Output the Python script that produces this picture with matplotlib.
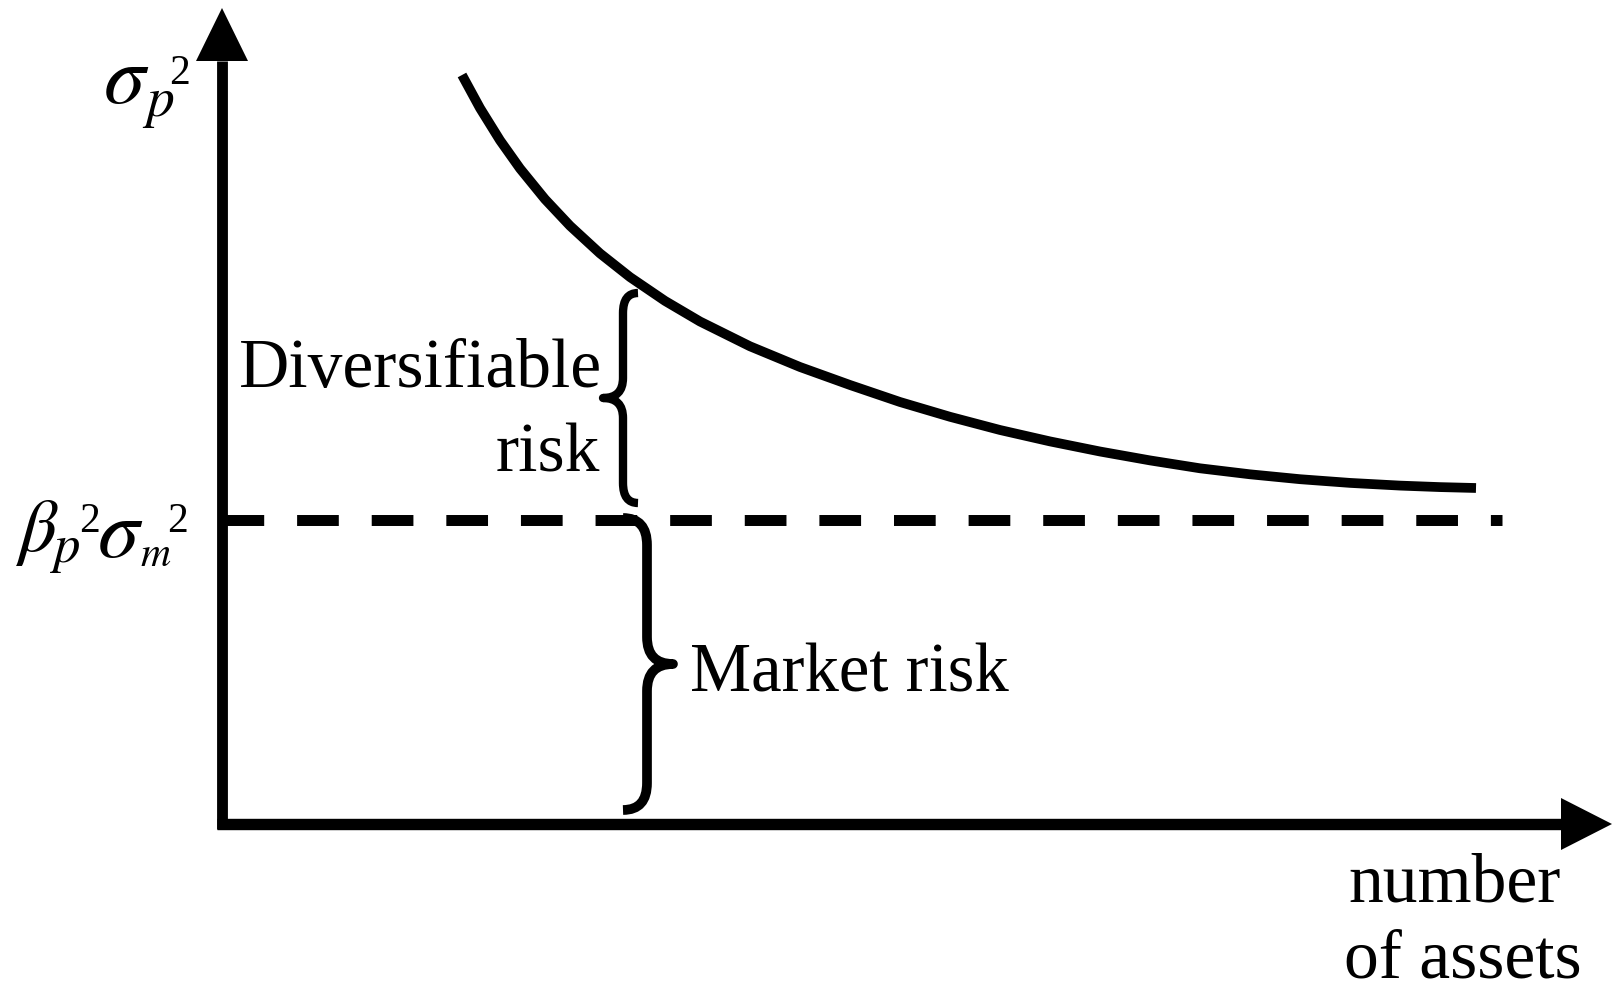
import matplotlib
matplotlib.use('Agg')
import matplotlib.pyplot as plt
import numpy as np
from matplotlib.path import Path
from matplotlib.patches import PathPatch

plt.rcParams['font.family'] = ['Liberation Serif', 'DejaVu Serif']
plt.rcParams['mathtext.fontset'] = 'stix'

# portfolio variance vs number of assets (1 unit = 100 px)
n_assets = [2.40, 2.58, 2.78, 2.98, 3.23, 3.48, 3.78, 4.08, 4.43, 4.78, 5.28, 5.78, 6.28,
            6.78, 7.28, 7.78, 8.28, 8.78, 9.28, 9.78, 10.28, 10.78, 11.28, 11.78, 12.18, 12.54]
port_var = [7.49, 7.159, 6.837, 6.555, 6.248, 5.982, 5.706, 5.469, 5.231, 5.025, 4.777, 4.57, 4.39,
            4.22, 4.072, 3.94, 3.826, 3.725, 3.636, 3.557, 3.497, 3.448, 3.411, 3.384, 3.369, 3.36]
market_var = 3.04
market_line_end = 12.80

# brace spans: (bottom, top)
diversifiable_span = (3.21, 5.31)
market_span = (0.14, 3.06)

x_max, y_max = 13.39, 7.63   # where the arrow heads start
x_tip, y_tip = 13.90, 8.16


def px(x, y):
    # picture pixels -> data units
    return (x - 222) / 100, (824 - y) / 100


def brace(ax, x, xh, xt, y0, y1, r, lw):
    ym = (y0 + y1) / 2
    verts = [(xh, y1), (x, y1), (x, y1 - r), (x, ym + r), (x, ym), (xt, ym),
             (x, ym), (x, ym - r), (x, y0 + r), (x, y0), (xh, y0)]
    codes = [Path.MOVETO, Path.CURVE3, Path.CURVE3, Path.LINETO, Path.CURVE3, Path.CURVE3,
             Path.CURVE3, Path.CURVE3, Path.LINETO, Path.CURVE3, Path.CURVE3]
    ax.add_patch(PathPatch(Path(verts, codes), fill=False, lw=lw, capstyle='butt',
                           joinstyle='round', color='black'))


def piece(ax, s, x, y, size):
    ax.text(*px(x, y), s, fontsize=size, ha='left', va='baseline')


fig = plt.figure(figsize=(16.12, 9.89), dpi=100)
ax = fig.add_axes([0, 0, 1, 1])
ax.set_xlim(-2.22, 13.90)
ax.set_ylim(-1.65, 8.24)
ax.axis('off')

# axes with arrows
ax.plot([0, 0], [-0.05, y_max], color='black', lw=7.8, solid_capstyle='butt')
ax.plot([-0.05, x_max], [0, 0], color='black', lw=8.2, solid_capstyle='butt')
ax.fill([-0.26, 0.26, 0], [y_max, y_max, y_tip], color='black', lw=0)
ax.fill([x_max, x_max, x_tip], [-0.26, 0.26, 0], color='black', lw=0)

# curve and market risk level
ax.plot(n_assets, port_var, color='black', lw=7.0, solid_capstyle='butt',
        solid_joinstyle='round')
line, = ax.plot([0, market_line_end], [market_var, market_var], color='black', lw=7.9)
line.set_dashes((3.8, 3.0))

brace(ax, 4.01, 4.16, 3.81, diversifiable_span[0], diversifiable_span[1], 0.2, 6)
brace(ax, 4.25, 4.01, 4.51, market_span[0], market_span[1], 0.27, 7)

ax.text(3.80, 4.37, 'Diversifiable', fontsize=50, ha='right', va='baseline')
ax.text(3.78, 3.52, 'risk', fontsize=50, ha='right', va='baseline')
ax.text(4.68, 1.32, 'Market risk', fontsize=49.5, ha='left', va='baseline')
ax.text(12.33, -0.78, 'number', fontsize=50, ha='center', va='baseline')
ax.text(12.41, -1.54, 'of assets', fontsize=50, ha='center', va='baseline')

# sigma_p^2
piece(ax, r'$\sigma$', 103, 103, 60)
piece(ax, r'$p$', 142, 116, 40)
piece(ax, '2', 169, 84, 30)

# beta_p^2 sigma_m^2
piece(ax, r'$\beta$', 15, 551, 54)
piece(ax, r'$p$', 50, 562, 38)
piece(ax, '2', 79, 532, 30)
piece(ax, r'$\sigma$', 97, 557, 60)
piece(ax, r'$m$', 140, 566, 30)
piece(ax, '2', 167, 532, 30)

fig.savefig('out.png', dpi=100)
